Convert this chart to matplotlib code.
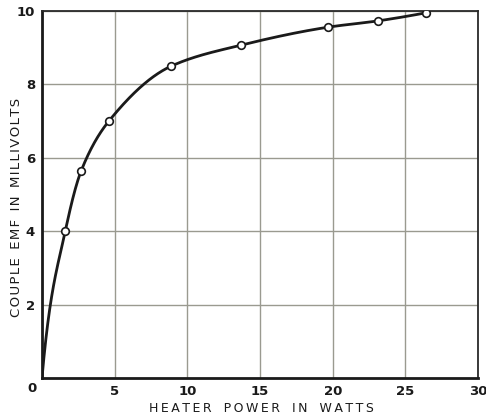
import numpy as np
import matplotlib
matplotlib.use("Agg")
import matplotlib.pyplot as plt

# Heater power (W) vs thermocouple EMF (mV)
power_w = [0.0, 1.6, 2.7, 4.6, 8.9, 13.7, 19.7, 23.1, 26.4]
emf_mv = [0.0, 4.0, 5.65, 7.0, 8.5, 9.07, 9.56, 9.73, 9.95]

x_ticks = [0, 5, 10, 15, 20, 25, 30]
x_tick_labels = ["", "5", "10", "15", "20", "25", "30"]
y_ticks = [2, 4, 6, 8, 10]

x_title = "HEATER POWER IN WATTS"
y_title = "COUPLE EMF IN MILLIVOLTS"


def pchip(x, y, xs, start_slope=None):
    """Monotone piecewise cubic Hermite curve through (x, y)."""
    x = np.asarray(x, float)
    y = np.asarray(y, float)
    h = np.diff(x)
    d = np.diff(y) / h
    n = len(x)
    m = np.zeros(n)
    for k in range(1, n - 1):
        if d[k - 1] * d[k] > 0:
            w1 = 2 * h[k] + h[k - 1]
            w2 = h[k] + 2 * h[k - 1]
            m[k] = (w1 + w2) / (w1 / d[k - 1] + w2 / d[k])
    if start_slope is None:
        m[0] = ((2 * h[0] + h[1]) * d[0] - h[0] * d[1]) / (h[0] + h[1])
    else:
        m[0] = start_slope
    m[-1] = ((2 * h[-1] + h[-2]) * d[-1] - h[-1] * d[-2]) / (h[-1] + h[-2])
    if m[-1] * d[-1] <= 0:
        m[-1] = 0
    idx = np.clip(np.searchsorted(x, xs) - 1, 0, n - 2)
    t = (xs - x[idx]) / h[idx]
    h00 = 2 * t**3 - 3 * t**2 + 1
    h10 = t**3 - 2 * t**2 + t
    h01 = -2 * t**3 + 3 * t**2
    h11 = t**3 - t**2
    return (h00 * y[idx] + h10 * h[idx] * m[idx]
            + h01 * y[idx + 1] + h11 * h[idx] * m[idx + 1])


def tracked(s, gap, word_gap):
    """Spread the letters of a caption apart."""
    return word_gap.join(gap.join(w) for w in s.split(" "))


fig = plt.figure(figsize=(4.86, 4.16), dpi=100)
ax = fig.add_axes([0.0864, 0.0913, 0.8975, 0.8823])

xs = np.linspace(power_w[0], power_w[-1], 600)
ax.plot(xs, pchip(power_w, emf_mv, xs, start_slope=4.5), color="#1a1a1a",
        lw=2.0, solid_capstyle="round", zorder=3)
ax.plot(power_w[1:], emf_mv[1:], "o", ms=5.5, mfc="white", mec="#1a1a1a",
        mew=1.2, zorder=4)

ax.set_xlim(0, 30)
ax.set_ylim(0, 10)
ax.set_xticks(x_ticks, x_tick_labels)
ax.set_yticks(y_ticks)
ax.grid(True, color="#9a9a90", lw=1.0)
ax.set_axisbelow(True)

for side in ["left", "bottom"]:
    ax.spines[side].set_linewidth(2.0)
    ax.spines[side].set_color("#1a1a1a")
for side in ["top", "right"]:
    ax.spines[side].set_linewidth(1.3)
    ax.spines[side].set_color("#2a2a2a")

ax.tick_params(length=0, pad=5, labelsize=9.5, colors="#1a1a1a")
for lab in ax.get_xticklabels() + ax.get_yticklabels():
    lab.set_fontweight("bold")

# single origin label at the corner
ax.text(-0.35, -0.12, "0", ha="right", va="top", fontsize=9.5,
        fontweight="bold", color="#1a1a1a")

fig.text(261.5 / 486, 1 - 408 / 416, tracked(x_title, "\u2009", "   "),
         ha="center", va="center", fontsize=9, color="#1a1a1a")
fig.text(17 / 486, 1 - 207 / 416, tracked(y_title, "\u200a", "  "),
         ha="center", va="center", rotation=90, fontsize=9.5,
         color="#1a1a1a")

fig.savefig("out.png", dpi=100, facecolor="white")
